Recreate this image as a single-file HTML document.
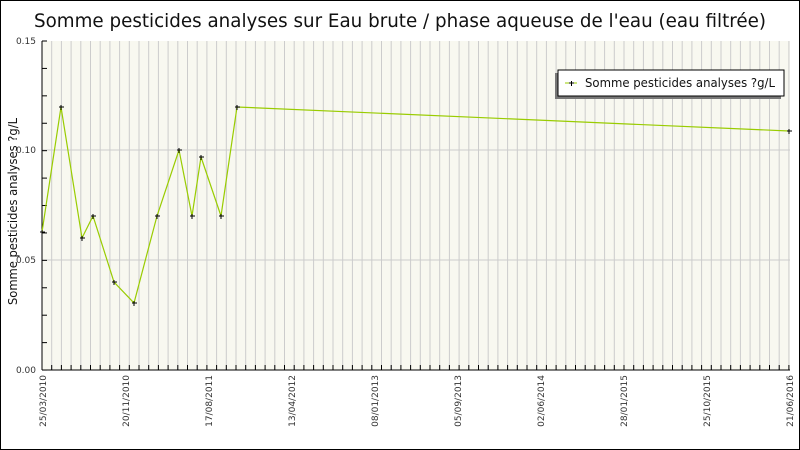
<!DOCTYPE html>
<html><head><meta charset="utf-8"><style>
body{margin:0;background:#fff;}
svg{display:block;}
text{font-family:"DejaVu Sans","Liberation Sans",sans-serif;}
</style></head><body>
<svg id="s" width="800" height="450" xmlns="http://www.w3.org/2000/svg">
<rect x="0.5" y="0.5" width="799" height="449" fill="#fff" stroke="#000"/>
<text x="34" y="27" font-size="19" textLength="732" lengthAdjust="spacingAndGlyphs" fill="#111">Somme pesticides analyses sur Eau brute / phase aqueuse de l'eau (eau filtrée)</text>
<rect x="42" y="41" width="748" height="329" fill="#f8f8f0"/>
<g id="g"></g>
<line x1="42" y1="41" x2="42" y2="370" stroke="#000"/>
<line x1="42" y1="370" x2="790" y2="370" stroke="#000"/>
<text x="36" y="44" font-size="9" text-anchor="end" fill="#333" font-family="Liberation Sans">0.15</text>
<text x="36" y="153" font-size="9" text-anchor="end" fill="#333" font-family="Liberation Sans">0.10</text>
<text x="36" y="263" font-size="9" text-anchor="end" fill="#333" font-family="Liberation Sans">0.05</text>
<text x="36" y="373" font-size="9" text-anchor="end" fill="#333" font-family="Liberation Sans">0.00</text>
<text transform="translate(17,305) rotate(-90)" font-size="12" textLength="187" lengthAdjust="spacingAndGlyphs" fill="#111">Somme pesticides analyses ?g/L</text>
<polyline fill="none" stroke="#99cc00" stroke-width="1.2" points="42,232 61,107 82,238 93,216 114,282 134,303 157,216 179,150 192,216 201,157 221,216 237,107 789,131"/>
<g id="m" fill="#000"></g>
<rect x="555" y="73" width="226" height="26" fill="#777"/>
<rect x="558" y="70" width="226" height="26" fill="#fff" stroke="#000"/>
<line x1="565" y1="83" x2="577" y2="83" stroke="#99cc00"/>
<rect x="569" y="82.5" width="5" height="1"/><rect x="571" y="81" width="1" height="5"/>
<text x="585" y="87" font-size="12" textLength="190" lengthAdjust="spacingAndGlyphs" fill="#111">Somme pesticides analyses ?g/L</text>
</svg>
<script>
var g=document.getElementById('g'),h='';
for(var i=0;i<78;i++){var x=42+i*9.7;if(x>790)break;h+='<line x1="'+x+'" y1="41" x2="'+x+'" y2="370" stroke="#ccc"/>';h+='<line x1="'+x+'" y1="365" x2="'+x+'" y2="370" stroke="#000"/>';}
[150,260].forEach(function(y){h+='<line x1="42" y1="'+y+'" x2="790" y2="'+y+'" stroke="#ccc"/>';});
for(var j=0;j<=12;j++){var y=41+j*27.42;h+='<line x1="42" y1="'+y+'" x2="47" y2="'+y+'" stroke="#000"/>';}
var labs=["25/03/2010","20/11/2010","17/08/2011","13/04/2012","08/01/2013","05/09/2013","02/06/2014","28/01/2015","25/10/2015","21/06/2016"];
labs.forEach(function(l,k){var x=42+k*83+4;h+='<text transform="translate('+x+',375) rotate(-90)" font-size="9" text-anchor="end" fill="#333" font-family="Liberation Sans">'+l+'</text>';});
g.innerHTML=h;
var p=[[42,232],[61,107],[82,238],[93,216],[114,282],[134,303],[157,216],[179,150],[192,216],[201,157],[221,216],[237,107],[789,131]],m='';
p.forEach(function(q){m+='<rect x="'+(q[0]-2)+'" y="'+(q[1]-0.5)+'" width="5" height="1"/><rect x="'+(q[0]-0.5)+'" y="'+(q[1]-2)+'" width="1" height="5"/>';});
document.getElementById('m').innerHTML=m;
</script>
</body></html>
